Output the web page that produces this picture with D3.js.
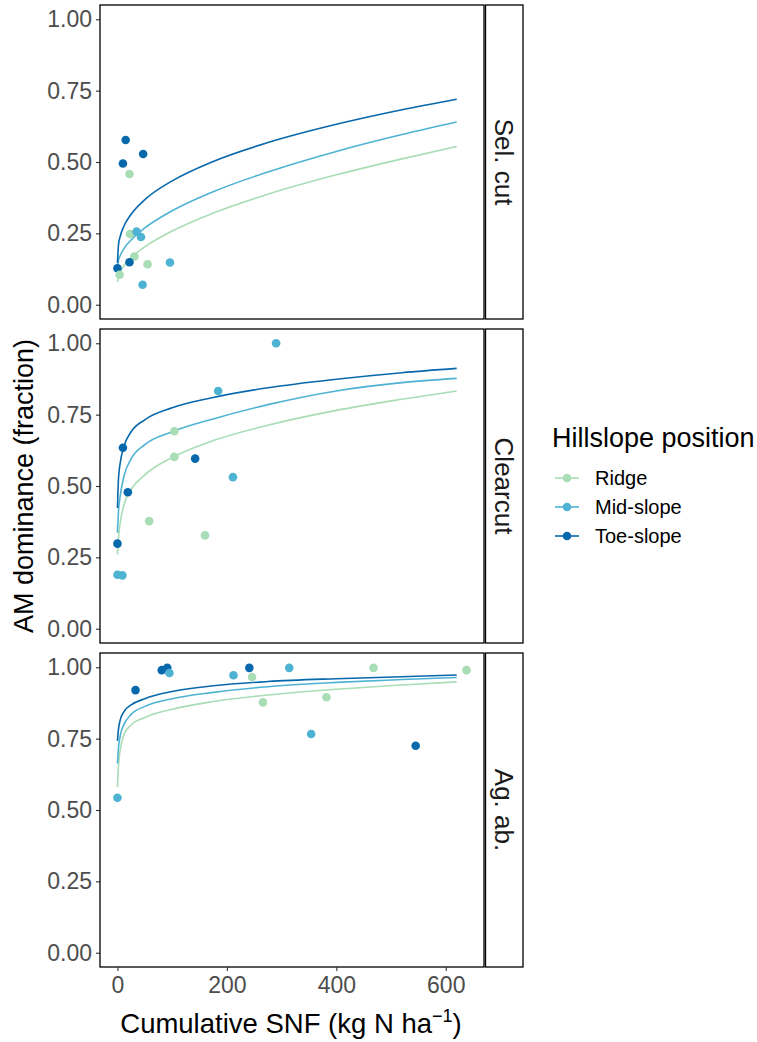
<!DOCTYPE html>
<html>
<head>
<meta charset="utf-8">
<script src="https://cdn.jsdelivr.net/npm/d3@7"></script>
<style>
  html, body { margin: 0; padding: 0; background: #ffffff; }
  svg { display: block; font-family: "Liberation Sans", Arial, sans-serif; }
</style>
</head>
<body>
<svg id="chart" width="757" height="1042"></svg>
<script>
// Facet panels (treatments) and hillslope groups
const treatments = ["Sel. cut", "Clearcut", "Ag. ab."];
const positions = ["Ridge", "Mid-slope", "Toe-slope"];
const positionColors = ["#a8ddb5", "#4eb3d3", "#0868ac"];

// Axis ticks
const xTicks = [0, 200, 400, 600];
const yTicks = [0, 0.25, 0.5, 0.75, 1];

// Observations: [cumulative SNF, AM dominance, hillslope index]
const selCutPoints = [
  [15, 0.577, 2], [10, 0.495, 2], [47, 0.528, 2], [22, 0.458, 0],
  [23, 0.248, 0], [35, 0.256, 1], [43, 0.237, 1], [31, 0.169, 0],
  [22, 0.149, 2], [55, 0.142, 0], [96, 0.148, 1], [0, 0.128, 2],
  [4, 0.105, 0], [46, 0.070, 1]
];
const clearcutPoints = [
  [290, 1.000, 1], [184, 0.833, 1], [104, 0.692, 0], [10, 0.634, 2],
  [104, 0.602, 0], [142, 0.596, 2], [211, 0.531, 1], [19, 0.478, 2],
  [58, 0.377, 0], [160, 0.327, 0], [0, 0.298, 2], [0, 0.189, 1],
  [9, 0.187, 1]
];
const agAbPoints = [
  [33, 0.920, 2], [81, 0.990, 2], [91, 0.998, 2], [95, 0.980, 1],
  [212, 0.972, 1], [241, 0.998, 2], [246, 0.966, 0], [266, 0.877, 0],
  [314, 0.998, 1], [354, 0.766, 1], [382, 0.895, 0], [468, 0.998, 0],
  [545, 0.725, 2], [638, 0.990, 0], [0, 0.543, 1]
];

// Fitted curves, evaluated at these SNF values
const curveX = [0, 2, 5, 12, 25, 50, 100, 175, 275, 400, 520, 620];
const selCutFits = [
  [0.080, 0.102, 0.116, 0.137, 0.165, 0.203, 0.258, 0.321, 0.387, 0.455, 0.511, 0.554],
  [0.130, 0.156, 0.172, 0.197, 0.227, 0.269, 0.329, 0.396, 0.465, 0.537, 0.596, 0.640],
  [0.146, 0.212, 0.239, 0.276, 0.317, 0.368, 0.434, 0.502, 0.568, 0.632, 0.683, 0.720]
];
const clearcutFits = [
  [0.260, 0.320, 0.370, 0.435, 0.488, 0.539, 0.600, 0.659, 0.713, 0.765, 0.804, 0.833],
  [0.336, 0.415, 0.465, 0.535, 0.595, 0.645, 0.690, 0.735, 0.785, 0.833, 0.862, 0.877],
  [0.423, 0.530, 0.580, 0.640, 0.690, 0.732, 0.774, 0.810, 0.844, 0.874, 0.897, 0.912]
];
const agAbFits = [
  [0.580, 0.660, 0.710, 0.765, 0.798, 0.824, 0.853, 0.880, 0.903, 0.923, 0.938, 0.949],
  [0.663, 0.720, 0.760, 0.800, 0.835, 0.863, 0.890, 0.912, 0.932, 0.947, 0.957, 0.964],
  [0.742, 0.785, 0.815, 0.845, 0.868, 0.890, 0.915, 0.935, 0.950, 0.960, 0.967, 0.973]
];

const panelPoints = [selCutPoints, clearcutPoints, agAbPoints];
const panelFits = [selCutFits, clearcutFits, agAbFits];

// Layout
const svg = d3.select("#chart");
const plotLeft = 100, plotRight = 484;
const stripLeft = 485.5, stripRight = 523;
const panelTops = [5, 329, 653];
const panelHeight = 314;
const tickColor = "#333333";
const labelColor = "#4d4d4d";
const fontFamily = "Liberation Sans, Arial, sans-serif";

const x = d3.scaleLinear().domain([-31.9, 669.9]).range([plotLeft, plotRight]);

const line = d3.line().curve(d3.curveMonotoneX);

panelTops.forEach((top, i) => {
  const y = d3.scaleLinear().domain([-0.05, 1.05]).range([top + panelHeight, top]);
  const g = svg.append("g");

  // clip region for fitted lines
  const clipId = "clip" + i;
  svg.append("clipPath").attr("id", clipId)
    .append("rect").attr("x", plotLeft).attr("y", top)
    .attr("width", plotRight - plotLeft).attr("height", panelHeight);

  // y axis
  const yAxis = d3.axisLeft(y).tickValues(yTicks)
    .tickFormat(d3.format(".2f")).tickSize(4).tickPadding(4);
  const ya = g.append("g").attr("transform", `translate(${plotLeft},0)`).call(yAxis);
  ya.select(".domain").remove();
  ya.selectAll(".tick line").attr("stroke", tickColor).attr("stroke-width", 1.1);
  ya.selectAll(".tick text").attr("fill", labelColor)
    .style("font-size", "23px").style("font-family", fontFamily);

  // fitted curves
  const fits = panelFits[i];
  const cg = g.append("g").attr("clip-path", `url(#${clipId})`);
  fits.forEach((vals, k) => {
    const pts = curveX.map((xv, j) => [x(xv), y(vals[j])]);
    cg.append("path").attr("d", line(pts))
      .attr("fill", "none").attr("stroke", positionColors[k])
      .attr("stroke-width", 1.6);
  });

  // observations
  g.append("g").selectAll("circle").data(panelPoints[i]).join("circle")
    .attr("cx", d => x(d[0])).attr("cy", d => y(d[1])).attr("r", 4.3)
    .attr("fill", d => positionColors[d[2]]);

  // panel border
  g.append("rect").attr("x", plotLeft).attr("y", top)
    .attr("width", plotRight - plotLeft).attr("height", panelHeight)
    .attr("fill", "none").attr("stroke", "#000").attr("stroke-width", 1.3);

  // strip on the right
  g.append("rect").attr("x", stripLeft).attr("y", top)
    .attr("width", stripRight - stripLeft).attr("height", panelHeight)
    .attr("fill", "#ffffff").attr("stroke", "#000").attr("stroke-width", 1.3);
  const cx = (stripLeft + stripRight) / 2;
  const cy = top + panelHeight / 2;
  g.append("text")
    .attr("transform", `translate(${cx},${cy}) rotate(90)`)
    .attr("text-anchor", "middle").attr("dy", "0.35em")
    .attr("fill", "#1a1a1a").style("font-size", "26px")
    .text(treatments[i]);

  // x axis on the bottom panel only
  if (i === panelTops.length - 1) {
    const xAxis = d3.axisBottom(x).tickValues(xTicks).tickSize(4).tickPadding(6);
    const xa = g.append("g").attr("transform", `translate(0,${top + panelHeight})`).call(xAxis);
    xa.select(".domain").remove();
    xa.selectAll(".tick line").attr("stroke", tickColor).attr("stroke-width", 1.1);
    xa.selectAll(".tick text").attr("fill", labelColor)
      .style("font-size", "23px").style("font-family", fontFamily);
  }
});

// axis titles
svg.append("text")
  .attr("transform", `translate(33,${(panelTops[0] + panelTops[2] + panelHeight) / 2}) rotate(-90)`)
  .attr("text-anchor", "middle").attr("fill", "#000").style("font-size", "27px")
  .text("AM dominance (fraction)");

const xTitle = svg.append("text")
  .attr("x", 291).attr("y", 1033)
  .attr("text-anchor", "middle").attr("fill", "#000").style("font-size", "27.5px");
xTitle.append("tspan").text("Cumulative SNF (kg N ha");
xTitle.append("tspan").attr("dy", -11).style("font-size", "18px").text("\u22121");
xTitle.append("tspan").attr("dy", 11).text(")");

// legend
const legend = svg.append("g");
legend.append("text").attr("x", 552).attr("y", 447)
  .attr("fill", "#000").style("font-size", "27px").text("Hillslope position");
positions.forEach((p, k) => {
  const ly = 478 + k * 29;
  legend.append("line").attr("x1", 555).attr("x2", 579).attr("y1", ly).attr("y2", ly)
    .attr("stroke", positionColors[k]).attr("stroke-width", 1.6);
  legend.append("circle").attr("cx", 567).attr("cy", ly).attr("r", 4.3)
    .attr("fill", positionColors[k]);
  legend.append("text").attr("x", 595).attr("y", ly).attr("dy", "0.35em")
    .attr("fill", "#000").style("font-size", "20px").text(p);
});
</script>
</body>
</html>
